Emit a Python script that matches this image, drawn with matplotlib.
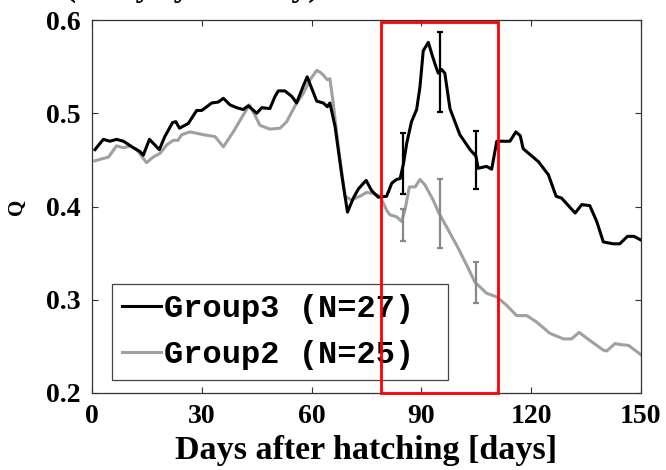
import matplotlib
matplotlib.use("Agg")
import matplotlib.pyplot as plt
from matplotlib.patches import Rectangle

# Group3 curve (days, Q)
days_g3 = [0.8, 3.1, 4.9, 6.7, 8.6, 11.3, 13.1, 14.0, 15.7, 18.4, 19.9, 22.0, 22.9,
           23.9, 26.3, 28.6, 30.0, 32.7, 34.5, 35.9, 37.7, 39.5, 41.3, 42.7, 45.0,
           46.4, 48.6, 50.0, 50.9, 52.7, 54.6, 55.9, 57.7, 58.8, 60.0, 61.4, 63.2,
           64.3, 65.0, 66.4, 68.2, 69.8, 71.4, 72.8, 74.9, 76.4, 78.2, 80.5, 81.9,
           83.2, 84.2, 85.1, 86.0, 87.3, 88.7, 89.6, 90.5, 91.9, 92.8, 93.7, 94.6,
           95.5, 96.4, 97.8, 100.5, 103.3, 104.9, 105.5, 107.8, 109.2, 110.6, 114.2,
           115.8, 117.0, 117.8, 122.0, 124.7, 126.8, 128.3, 132.0, 133.8, 136.0,
           137.9, 139.7, 142.4, 144.2, 146.3, 148.1, 150.0]
q_g3 = [0.461, 0.472, 0.470, 0.472, 0.470, 0.463, 0.459, 0.455, 0.472, 0.461, 0.475,
        0.490, 0.491, 0.484, 0.489, 0.503, 0.503, 0.511, 0.512, 0.516, 0.509, 0.506,
        0.504, 0.508, 0.500, 0.506, 0.505, 0.518, 0.524, 0.524, 0.518, 0.511, 0.529,
        0.539, 0.527, 0.513, 0.511, 0.507, 0.511, 0.486, 0.435, 0.394, 0.409, 0.419,
        0.428, 0.417, 0.410, 0.411, 0.425, 0.429, 0.430, 0.446, 0.468, 0.491, 0.504,
        0.528, 0.567, 0.576, 0.564, 0.553, 0.543, 0.547, 0.543, 0.505, 0.477, 0.461,
        0.454, 0.441, 0.443, 0.440, 0.470, 0.470, 0.480, 0.476, 0.462, 0.448, 0.434,
        0.411, 0.409, 0.393, 0.402, 0.401, 0.384, 0.362, 0.360, 0.360, 0.368, 0.368,
        0.364]

# Group2 curve (days, Q)
days_g2 = [0.8, 2.6, 4.5, 6.7, 8.6, 10.4, 12.2, 14.9, 16.7, 18.6, 20.4, 22.2, 23.5,
           24.5, 26.8, 30.4, 33.6, 35.9, 38.6, 41.3, 43.0, 44.5, 45.9, 48.6, 51.4,
           53.2, 55.9, 57.7, 59.6, 61.4, 62.3, 63.2, 64.3, 65.0, 65.9, 67.3, 69.1,
           70.9, 73.2, 75.0, 76.9, 78.7, 80.5, 81.4, 83.2, 84.6, 85.5, 86.7, 88.3,
           89.6, 91.0, 93.2, 94.8, 96.9, 100.1, 102.4, 104.6, 107.8, 110.6, 113.3,
           116.0, 118.8, 121.5, 125.1, 128.8, 131.0, 133.1, 135.1, 139.7, 140.6,
           142.9, 144.3, 146.6, 150.0]
q_g2 = [0.449, 0.451, 0.453, 0.465, 0.463, 0.465, 0.461, 0.447, 0.453, 0.457, 0.466,
        0.471, 0.471, 0.477, 0.480, 0.477, 0.475, 0.464, 0.480, 0.498, 0.509, 0.498,
        0.487, 0.483, 0.484, 0.491, 0.511, 0.521, 0.536, 0.546, 0.544, 0.541, 0.536,
        0.537, 0.511, 0.464, 0.411, 0.407, 0.411, 0.415, 0.414, 0.411, 0.396, 0.391,
        0.389, 0.384, 0.396, 0.421, 0.421, 0.429, 0.423, 0.407, 0.393, 0.378, 0.355,
        0.337, 0.319, 0.307, 0.303, 0.294, 0.283, 0.283, 0.276, 0.264, 0.258, 0.258,
        0.265, 0.259, 0.246, 0.245, 0.253, 0.252, 0.251, 0.241]

# error bars at selected days
err_days = [85, 95, 105]
g3_mean = [0.446, 0.544, 0.450]
g3_err = [0.033, 0.043, 0.031]
g2_mean = [0.380, 0.392, 0.319]
g2_err = [0.017, 0.037, 0.022]

labels = ["Group3 (N=27)", "Group2 (N=25)"]
xticks = [0, 30, 60, 90, 120, 150]
yticks = [0.2, 0.3, 0.4, 0.5, 0.6]
window = (79, 111)  # highlighted day range

serif = ["Liberation Serif", "DejaVu Serif"]

fig = plt.figure(figsize=(6.66, 4.70), dpi=100)
ax = fig.add_axes([92 / 666, 77 / 470, 549 / 666, 373 / 470])

l3, = ax.plot(days_g3, q_g3, color="black", lw=2.2, zorder=3)
l2, = ax.plot(days_g2, q_g2, color="#a0a0a0", lw=2.2, zorder=2)
ax.errorbar(err_days, g3_mean, yerr=g3_err, fmt="none", ecolor="black",
            elinewidth=1.6, capsize=2.5, capthick=1.6, zorder=4)
ax.errorbar(err_days, g2_mean, yerr=g2_err, fmt="none", ecolor="#888888",
            elinewidth=1.6, capsize=2.5, capthick=1.6, zorder=4)

ax.set_xlim(0, 150)
ax.set_ylim(0.2, 0.6)
ax.set_xticks(xticks)
ax.set_yticks(yticks)
ax.set_xticklabels([str(t) for t in xticks], family=serif, weight="bold", fontsize=20)
ax.set_yticklabels([f"{t:.1f}" for t in yticks], family=serif, weight="bold", fontsize=20)
ax.tick_params(direction="in", length=4, width=0.8, color="#333333",
               top=True, right=True, pad=8)
for s in ax.spines.values():
    s.set_color("#333333")
    s.set_linewidth(0.9)

ax.set_xlabel("Days after hatching [days]", family=serif, weight="bold",
              fontsize=24.5, labelpad=4)
ax.set_ylabel("Q", family=serif, weight="bold", fontsize=15)
ax.yaxis.set_label_coords(-0.118, 0.5)

leg = ax.legend([l3, l2], labels, loc="lower left",
                bbox_to_anchor=(20 / 549, 13 / 373, 336 / 549, 0.2), mode="expand",
                borderaxespad=0, prop={"family": ["Liberation Mono", "DejaVu Sans Mono"],
                                       "weight": "bold", "size": 23},
                handlelength=1.2, handletextpad=0.1, labelspacing=0.5,
                borderpad=0.32, fancybox=False, framealpha=1)
leg.get_frame().set_edgecolor("#444444")
leg.get_frame().set_linewidth(0.9)

ax.add_patch(Rectangle((window[0], 0.2), window[1] - window[0], 0.398,
                       fill=False, ec="red", lw=2, clip_on=False, zorder=6))

# panel title, mostly above the top edge
fig.text(65 / 666, 474 / 470, "(Daily synchrony)", family=serif, weight="bold",
         fontsize=24, va="baseline", ha="left")

fig.savefig("out.png", dpi=100)
